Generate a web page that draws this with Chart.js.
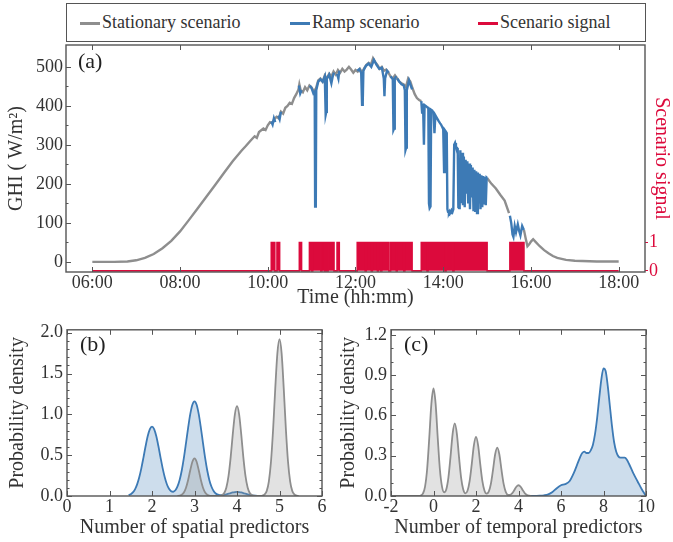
<!DOCTYPE html>
<html><head><meta charset="utf-8">
<script src="https://cdn.jsdelivr.net/npm/chart.js@4.4.1/dist/chart.umd.min.js"></script>
<style>
body{margin:0;background:#fff;width:673px;height:542px;position:relative;overflow:hidden;font-family:"Liberation Serif",serif;}
canvas{position:absolute;}
#legend{position:absolute;left:66px;top:3px;width:578px;height:37px;border:1px solid #555;background:#fff;}
#legend .ln{position:absolute;top:18px;width:20px;height:3px;}
#legend .lt{position:absolute;top:8px;font-size:18px;line-height:20px;color:#333;white-space:nowrap;}
</style></head>
<body>
<canvas id="ca" width="673" height="310" style="left:0;top:0"></canvas>
<div id="legend">
  <span class="ln" style="left:13px;background:#8e8e8e"></span><span class="lt" style="left:35px">Stationary scenario</span>
  <span class="ln" style="left:223px;background:#3d7ab5"></span><span class="lt" style="left:245px">Ramp scenario</span>
  <span class="ln" style="left:411px;background:#dc0a3c"></span><span class="lt" style="left:433px">Scenario signal</span>
</div>
<canvas id="cb" width="336" height="227" style="left:0;top:315px"></canvas>
<canvas id="cc" width="337" height="227" style="left:336px;top:315px"></canvas>
<script>
// ---------- (a) time series ----------
const timeTickHours = [6, 8, 10, 12, 14, 16, 18];
const timeTickLabels = ["06:00", "08:00", "10:00", "12:00", "14:00", "16:00", "18:00"];
const ghiTicks = [0, 100, 200, 300, 400, 500];
const signalTicks = [0, 1];

const stationaryHours = [6.0, 6.5, 6.8, 7.0, 7.2, 7.4, 7.6, 7.8, 8.0, 8.2, 8.4, 8.6, 8.8, 9.0, 9.2, 9.4, 9.5, 9.6, 9.7, 9.75, 9.8, 9.9, 9.95,
  10.0, 10.05, 10.1, 10.15, 10.2, 10.25, 10.3, 10.35, 10.4, 10.45, 10.5, 10.55, 10.6, 10.65, 10.7, 10.72, 10.75, 10.8, 10.85, 10.9, 10.95,
  11.0, 11.05, 11.1, 11.15, 11.2, 11.25, 11.3, 11.35, 11.4, 11.45, 11.5, 11.55, 11.6, 11.65, 11.7, 11.75, 11.8, 11.85, 11.9, 11.95,
  12.0, 12.05, 12.1, 12.15, 12.2, 12.25, 12.3, 12.35, 12.4, 12.45, 12.5, 12.55, 12.6, 12.65, 12.7, 12.75, 12.8, 12.85, 12.9, 12.95,
  13.0, 13.05, 13.1, 13.15, 13.2, 13.25, 13.3, 13.35, 13.4, 13.45, 13.5, 14.0,
  15.0, 15.1, 15.2, 15.3, 15.4, 15.5, 15.6,
  15.84, 15.88, 15.92, 15.96, 16.0, 16.05, 16.1, 16.2, 16.3, 16.4, 16.5, 16.6, 16.8, 17.0, 17.5, 18.0];
const stationaryGHI = [0, 0, 1, 4, 10, 20, 35, 54, 78, 107, 137, 167, 197, 228, 258, 285, 297, 310, 322, 318, 333, 342, 338,
  350, 358, 356, 366, 372, 368, 385, 380, 395, 400, 408, 405, 420, 430, 442, 455, 440, 435, 448, 440, 452,
  447, 437, 445, 465, 470, 462, 478, 470, 482, 475, 488, 480, 492, 485, 495, 488, 493, 500, 493, 485,
  492, 488, 495, 486, 497, 505, 510, 505, 522, 512, 505, 495, 500, 490, 493, 485, 475, 470, 478, 470,
  462, 458, 455, 448, 470, 462, 445, 430, 420, 415, 412, null,
  215, 200, 188, 172, 157, 125, null,
  82, 60, 40, 45, 52, 58, 52, 40, 30, 22, 15, 10, 5, 3, 1, 1];

const rampHours = [10.08, 10.11, 10.14, 10.17, 10.2,
  10.24, 10.27, 10.30, 10.5,
  10.71, 10.74, 10.77, 10.85,
  10.96, 11.0, 11.04, 11.07, 11.08, 11.095, 11.105, 11.15, 11.2, 11.25, 11.3, 11.32, 11.335, 11.345, 11.4, 11.45, 11.48, 11.51, 11.55,
  11.58, 11.61, 11.63, 11.8,
  12.04, 12.09, 12.13, 12.15, 12.165, 12.18, 12.24, 12.3, 12.36, 12.42, 12.48, 12.54, 12.6, 12.645, 12.66, 12.675, 12.72, 12.76, 12.78,
  12.80, 12.85, 12.865, 12.88, 12.895, 12.93, 12.94,
  12.95, 13.0, 13.05, 13.1, 13.125, 13.14, 13.155, 13.17, 13.22, 13.29, 13.4,
  13.50, 13.52, 13.54, 13.56, 13.575, 13.60, 13.62, 13.64, 13.66, 13.675, 13.69, 13.71, 13.725, 13.75, 13.78, 13.80, 13.82, 13.86, 13.9,
  13.93, 13.95, 13.98, 14.0, 14.02, 14.035, 14.06, 14.08, 14.095, 14.11, 14.13, 14.15, 14.17, 14.19, 14.21, 14.23, 14.25, 14.27, 14.29,
  14.31, 14.33, 14.345, 14.36, 14.375, 14.39, 14.41, 14.43, 14.45, 14.47, 14.49, 14.51, 14.53, 14.55, 14.57, 14.59, 14.61, 14.63, 14.65,
  14.67, 14.69, 14.71, 14.73, 14.75, 14.77, 14.79, 14.81, 14.83, 14.85, 14.87, 14.89, 14.91, 14.93, 14.95, 14.97, 14.99, 15.0, 15.2,
  15.52, 15.55, 15.58, 15.6, 15.63, 15.66, 15.7, 15.73, 15.76, 15.8, 15.84];
const rampGHI = [360, 352, 368, 358, null,
  375, 366, 385, null,
  452, 432, 440, null,
  452, 445, 432, 436, 142, 146, 440, 462, 468, 462, 475, 377, 385, 470, 480, 458, 475, 485, null,
  482, 470, 490, null,
  490, 494, 484, 403, 410, 490, 503, 508, 500, 518, 505, 495, 498, 470, 425, 470, 490, 485, null,
  476, 468, 338, 342, 470, 476, null,
  470, 462, 455, 452, 440, 287, 293, 440, 465, 442, null,
  412, 380, 405, 300, 402, 400, 398, 396, 395, 150, 138, 142, 390, 388, 382, 330, 376, 368, 360,
  355, 352, 345, 340, 230, 338, 334, 330, 135, 128, 125, 130, 126, 132, 128, 135, 300, 305, 296,
  292, 290, 140, 138, 150, 286, 150, 280, 145, 270, 140, 262, 175, 258, 150, 252, 135, 248, 165,
  242, 130, 236, 128, 232, 125, 229, 150, 226, 135, 222, 140, 220, 150, 218, 145, 216, 215, null,
  118, 100, 70, 64, 92, 76, 96, 80, 68, 92, 82];

const signalStart = [10.08, 10.21, 10.72, 10.95, 11.025, 11.235, 11.315, 11.375, 11.58, 12.04, 12.245, 12.385, 12.52, 12.60, 12.80, 12.95, 13.125, 13.50, 13.655, 14.065, 14.245, 15.52];
const signalEnd   = [10.16, 10.27, 10.77, 11.00, 11.21, 11.29, 11.35, 11.51, 11.63, 12.22, 12.36, 12.50, 12.575, 12.76, 12.93, 13.10, 13.29, 13.63, 14.04, 14.22, 15.00, 15.84];

// ---------- (b) spatial predictors ----------
const spatialTicks = [0, 1, 2, 3, 4, 5, 6];
const densityTicksB = [0, 0.5, 1, 1.5, 2];
const densityLabelsB = ["0.0", "0.5", "1.0", "1.5", "2.0"];
const spatialStatX = [2.60, 2.65, 2.70, 2.75, 2.80, 2.85, 2.90, 2.95, 3.00, 3.05, 3.10, 3.15, 3.20, 3.25, 3.30, 3.35, 3.40, 3.45, 3.50,
  3.55, 3.60, 3.65, 3.70, 3.75, 3.80, 3.85, 3.90, 3.95, 4.00, 4.05, 4.10, 4.15, 4.20, 4.25, 4.30, 4.35, 4.40, 4.45, 4.50,
  4.55, 4.60, 4.65, 4.70, 4.75, 4.80, 4.85, 4.90, 4.95, 5.00, 5.05, 5.10, 5.15, 5.20, 5.25, 5.30, 5.35, 5.40, 5.45];
const spatialStatY = [0.001, 0.005, 0.015, 0.043, 0.101, 0.196, 0.315, 0.419, 0.460, 0.419, 0.315, 0.196, 0.101, 0.043, 0.015, 0.005, 0.001, 0.000, 0.000,
  0.001, 0.003, 0.011, 0.036, 0.103, 0.242, 0.470, 0.754, 1.001, 1.100, 1.001, 0.754, 0.470, 0.242, 0.103, 0.036, 0.011, 0.003, 0.001, 0.000,
  0.001, 0.005, 0.019, 0.063, 0.180, 0.422, 0.820, 1.315, 1.747, 1.920, 1.747, 1.315, 0.820, 0.422, 0.180, 0.063, 0.019, 0.005, 0.001];
const spatialRampX = [1.45, 1.50, 1.55, 1.60, 1.65, 1.70, 1.75, 1.80, 1.85, 1.90, 1.95, 2.00, 2.05, 2.10, 2.15, 2.20, 2.25, 2.30, 2.35, 2.40,
  2.45, 2.50, 2.55, 2.60, 2.65, 2.70, 2.75, 2.80, 2.85, 2.90, 2.95, 3.00, 3.05, 3.10, 3.15, 3.20, 3.25, 3.30, 3.35, 3.40,
  3.45, 3.50, 3.55, 3.60, 3.65, 3.70, 3.75, 3.80, 3.85, 3.90, 3.95, 4.00, 4.05, 4.10, 4.15, 4.20, 4.25, 4.30, 4.35, 4.40, 4.45, 4.50, 4.55];
const spatialRampY = [0.010, 0.022, 0.044, 0.082, 0.142, 0.229, 0.342, 0.474, 0.612, 0.734, 0.819, 0.850, 0.819, 0.734, 0.612, 0.474, 0.342, 0.230, 0.144, 0.088,
  0.058, 0.052, 0.070, 0.117, 0.196, 0.312, 0.466, 0.647, 0.835, 1.002, 1.118, 1.160, 1.118, 1.002, 0.835, 0.647, 0.466, 0.312, 0.194, 0.113,
  0.061, 0.031, 0.017, 0.011, 0.011, 0.014, 0.020, 0.028, 0.036, 0.043, 0.048, 0.050, 0.048, 0.043, 0.036, 0.028, 0.020, 0.013, 0.008, 0.005, 0.003, 0.001, 0.000];

// ---------- (c) temporal predictors ----------
const temporalTicks = [-2, 0, 2, 4, 6, 8, 10];
const densityTicksC = [0, 0.3, 0.6, 0.9, 1.2];
const densityLabelsC = ["0.0", "0.3", "0.6", "0.9", "1.2"];
const temporalStatX = [-2.0, -0.8, -0.7, -0.6, -0.5, -0.4, -0.3, -0.2, -0.1, 0.0, 0.1, 0.2, 0.3, 0.4, 0.5, 0.6, 0.7, 0.8, 0.9,
  1.0, 1.1, 1.2, 1.3, 1.4, 1.5, 1.6, 1.7, 1.8, 1.9, 2.0, 2.1, 2.2, 2.3, 2.4, 2.5, 2.6, 2.7, 2.8, 2.9,
  3.0, 3.1, 3.2, 3.3, 3.4, 3.5, 3.6, 3.7, 3.8, 3.9, 4.0, 4.1, 4.2, 4.3, 4.4, 4.5, 4.6];
const temporalStatY = [0, 0, 0, 0.003, 0.017, 0.068, 0.199, 0.431, 0.686, 0.80, 0.686, 0.431, 0.199, 0.070, 0.028, 0.049, 0.135, 0.291, 0.463,
  0.54, 0.463, 0.291, 0.135, 0.048, 0.020, 0.039, 0.110, 0.237, 0.377, 0.44, 0.377, 0.237, 0.110, 0.039, 0.017, 0.032, 0.090, 0.194, 0.309,
  0.36, 0.309, 0.194, 0.090, 0.031, 0.009, 0.008, 0.020, 0.043, 0.069, 0.08, 0.069, 0.043, 0.020, 0.007, 0.002, 0];
const temporalRampX = [4.5, 4.8, 5.0, 5.2, 5.4, 5.6, 5.8, 6.0, 6.2, 6.4, 6.6, 6.8, 6.9, 7.0, 7.1, 7.2, 7.3, 7.4, 7.5, 7.6,
  7.7, 7.8, 7.9, 8.0, 8.1, 8.2, 8.3, 8.4, 8.5, 8.6, 8.7, 8.8, 8.9, 9.0, 9.1, 9.2, 9.4, 9.6, 9.8, 10.0];
const temporalRampY = [0, 0.001, 0.002, 0.005, 0.012, 0.03, 0.058, 0.08, 0.088, 0.11, 0.17, 0.25, 0.29, 0.32, 0.33, 0.32, 0.32, 0.34, 0.38, 0.46,
  0.58, 0.73, 0.87, 0.95, 0.93, 0.82, 0.67, 0.52, 0.40, 0.33, 0.295, 0.285, 0.285, 0.285, 0.27, 0.24, 0.17, 0.11, 0.05, 0.0];

// ---------- styling ----------
const GRAY = '#8e8e8e', BLUE = '#3d7ab5', RED = '#dc0a3c';
const GRAY_FILL = 'rgba(150,150,150,0.28)', BLUE_FILL = 'rgba(61,122,181,0.26)';
const TXT = '#333';
const FONT = '"Liberation Serif", "Times New Roman", serif';
const TITLE_FONT = {family: FONT, size: 20};
Chart.defaults.font.family = FONT;
Chart.defaults.font.size = 18;
Chart.defaults.color = TXT;
Chart.defaults.animation = false;

const pts = (xs, ys) => xs.map((x, i) => ({x: x, y: ys[i]}));
function signalPoints() {
  const out = [{x: 6, y: 0}];
  signalStart.forEach((s, i) => {
    out.push({x: s, y: 0}, {x: s, y: 1}, {x: signalEnd[i], y: 1}, {x: signalEnd[i], y: 0});
  });
  out.push({x: 18, y: 0});
  return out;
}
function minors(majors, n) {
  const r = [];
  for (let i = 0; i < majors.length - 1; i++) {
    const a = majors[i], b = majors[i + 1];
    for (let k = 1; k < n; k++) r.push(a + (b - a) * k / n);
  }
  return r;
}

const frameTicks = {
  id: 'frameTicks',
  afterDatasetsDraw(chart, args, o) {
    const {ctx, chartArea: a} = chart;
    const xs = chart.scales.x, ys = chart.scales.y;
    ctx.save();
    ctx.strokeStyle = '#555';
    ctx.lineWidth = 1;
    ctx.beginPath();
    const seg = (x1, y1, x2, y2) => { ctx.moveTo(x1, y1); ctx.lineTo(x2, y2); };
    (o.xMajor || []).forEach(v => {
      const p = Math.round(xs.getPixelForValue(v)) + 0.5;
      seg(p, a.bottom, p, a.bottom - 5); seg(p, a.top, p, a.top + 5);
    });
    (o.yMajor || []).forEach(v => {
      const p = Math.round(ys.getPixelForValue(v)) + 0.5;
      seg(a.left, p, a.left + 5, p); if (o.mirrorY) seg(a.right, p, a.right - 5, p);
    });
    (o.yMinor || []).forEach(v => {
      const p = Math.round(ys.getPixelForValue(v)) + 0.5;
      seg(a.left, p, a.left + 2.5, p); if (o.mirrorY) seg(a.right, p, a.right - 2.5, p);
    });
    ctx.stroke();
    ctx.lineWidth = 1.4;
    ctx.strokeStyle = '#555';
    ctx.strokeRect(a.left, a.top, a.right - a.left, a.bottom - a.top);
    ctx.font = '22px ' + FONT;
    ctx.fillStyle = '#222';
    ctx.textBaseline = 'middle';
    ctx.textAlign = 'left';
    ctx.fillText(o.label, a.left + o.lx, a.top + o.ly);
    ctx.restore();
  }
};

function setTicks(values) { return s => { s.ticks = values.map(v => ({value: v})); }; }
const noGrid = {display: false, drawTicks: false};

// ---------- chart (a) ----------
new Chart(document.getElementById('ca'), {
  type: 'line',
  data: {
    datasets: [
      {label: 'Stationary scenario', data: pts(stationaryHours, stationaryGHI), borderColor: GRAY, borderWidth: 2.4,
       pointRadius: 0, yAxisID: 'y', spanGaps: false, order: 3},
      {label: 'Ramp scenario', data: pts(rampHours, rampGHI), borderColor: BLUE, borderWidth: 2.4,
       pointRadius: 0, yAxisID: 'y', spanGaps: false, order: 2},
      {label: 'Scenario signal', data: signalPoints(), borderColor: RED, backgroundColor: RED, borderWidth: 1.6,
       pointRadius: 0, yAxisID: 'y2', fill: 'origin', order: 1}
    ]
  },
  options: {
    responsive: false,
    layout: {padding: {top: 45, left: 0, right: 0, bottom: 0}},
    plugins: {
      legend: {display: false}, tooltip: {enabled: false},
      frameTicks: {xMajor: timeTickHours, yMajor: ghiTicks, yMinor: minors(ghiTicks, 2), mirrorY: false, label: '(a)', lx: 12, ly: 17}
    },
    scales: {
      x: {type: 'linear', min: 5.4, max: 18.6, afterBuildTicks: setTicks(timeTickHours),
          ticks: {callback: (v, i) => timeTickLabels[i], padding: 0, maxRotation: 0, autoSkip: false},
          grid: noGrid, border: {display: false},
          title: {display: true, text: 'Time (hh:mm)', font: TITLE_FONT, padding: {top: 0, bottom: 0}},
          afterFit: s => { s.height = 38; }},
      y: {type: 'linear', position: 'left', min: -26, max: 556, afterBuildTicks: setTicks(ghiTicks),
          ticks: {padding: 3}, grid: noGrid, border: {display: false},
          title: {display: true, text: 'GHI ( W/m\u00B2)', font: TITLE_FONT, padding: {top: 5, bottom: 0}},
          afterFit: s => { s.width = 66; }},
      y2: {type: 'linear', position: 'right', min: -0.04, max: 8, afterBuildTicks: setTicks(signalTicks),
          ticks: {padding: 1, color: RED},
          grid: {display: true, drawOnChartArea: false, drawTicks: true, tickLength: 3, color: RED, tickColor: RED}, border: {display: false},
          title: {display: true, text: 'Scenario signal', color: RED, font: TITLE_FONT, padding: {top: 0, bottom: 0}},
          afterFit: s => { s.width = 28; }}
    }
  },
  plugins: [frameTicks]
});

// ---------- chart (b) ----------
new Chart(document.getElementById('cb'), {
  type: 'line',
  data: {
    datasets: [
      {label: 'Stationary scenario', data: pts(spatialStatX, spatialStatY), borderColor: GRAY, backgroundColor: GRAY_FILL,
       fill: 'origin', borderWidth: 1.8, pointRadius: 0, cubicInterpolationMode: 'monotone'},
      {label: 'Ramp scenario', data: pts(spatialRampX, spatialRampY), borderColor: BLUE, backgroundColor: BLUE_FILL,
       fill: 'origin', borderWidth: 1.8, pointRadius: 0, cubicInterpolationMode: 'monotone'}
    ]
  },
  options: {
    responsive: false,
    layout: {padding: {top: 13, left: 0, right: 14, bottom: 0}},
    plugins: {
      legend: {display: false}, tooltip: {enabled: false},
      frameTicks: {xMajor: spatialTicks, yMajor: densityTicksB, yMinor: minors(densityTicksB, 5), mirrorY: true, label: '(b)', lx: 13, ly: 15}
    },
    scales: {
      x: {type: 'linear', min: 0, max: 6, afterBuildTicks: setTicks(spatialTicks),
          ticks: {callback: (v, i) => String(spatialTicks[i]), padding: 0, maxRotation: 0, autoSkip: false},
          grid: noGrid, border: {display: false},
          title: {display: true, text: 'Number of spatial predictors', font: TITLE_FONT, padding: {top: 0, bottom: 2}},
          afterFit: s => { s.height = 46; }},
      y: {type: 'linear', min: 0, max: 2.036, afterBuildTicks: setTicks(densityTicksB),
          ticks: {callback: (v, i) => densityLabelsB[i], padding: 4}, grid: noGrid, border: {display: false},
          title: {display: true, text: 'Probability density', font: TITLE_FONT, padding: {top: 6, bottom: 0}},
          afterFit: s => { s.width = 67; }}
    }
  },
  plugins: [frameTicks]
});

// ---------- chart (c) ----------
new Chart(document.getElementById('cc'), {
  type: 'line',
  data: {
    datasets: [
      {label: 'Stationary scenario', data: pts(temporalStatX, temporalStatY), borderColor: GRAY, backgroundColor: GRAY_FILL,
       fill: 'origin', borderWidth: 1.8, pointRadius: 0, cubicInterpolationMode: 'monotone'},
      {label: 'Ramp scenario', data: pts(temporalRampX, temporalRampY), borderColor: BLUE, backgroundColor: BLUE_FILL,
       fill: 'origin', borderWidth: 1.8, pointRadius: 0, cubicInterpolationMode: 'monotone'}
    ]
  },
  options: {
    responsive: false,
    layout: {padding: {top: 13, left: 0, right: 27, bottom: 0}},
    plugins: {
      legend: {display: false}, tooltip: {enabled: false},
      frameTicks: {xMajor: temporalTicks, yMajor: densityTicksC, yMinor: minors(densityTicksC, 3), mirrorY: true, label: '(c)', lx: 13, ly: 15}
    },
    scales: {
      x: {type: 'linear', min: -2, max: 10, afterBuildTicks: setTicks(temporalTicks),
          ticks: {callback: (v, i) => String(temporalTicks[i]), padding: 0, maxRotation: 0, autoSkip: false},
          grid: noGrid, border: {display: false},
          title: {display: true, text: 'Number of temporal predictors', font: TITLE_FONT, padding: {top: 0, bottom: 2}},
          afterFit: s => { s.height = 46; }},
      y: {type: 'linear', min: 0, max: 1.237, afterBuildTicks: setTicks(densityTicksC),
          ticks: {callback: (v, i) => densityLabelsC[i], padding: 4}, grid: noGrid, border: {display: false},
          title: {display: true, text: 'Probability density', font: TITLE_FONT, padding: {top: 1, bottom: 0}},
          afterFit: s => { s.width = 55; }}
    }
  },
  plugins: [frameTicks]
});
</script>
</body></html>
